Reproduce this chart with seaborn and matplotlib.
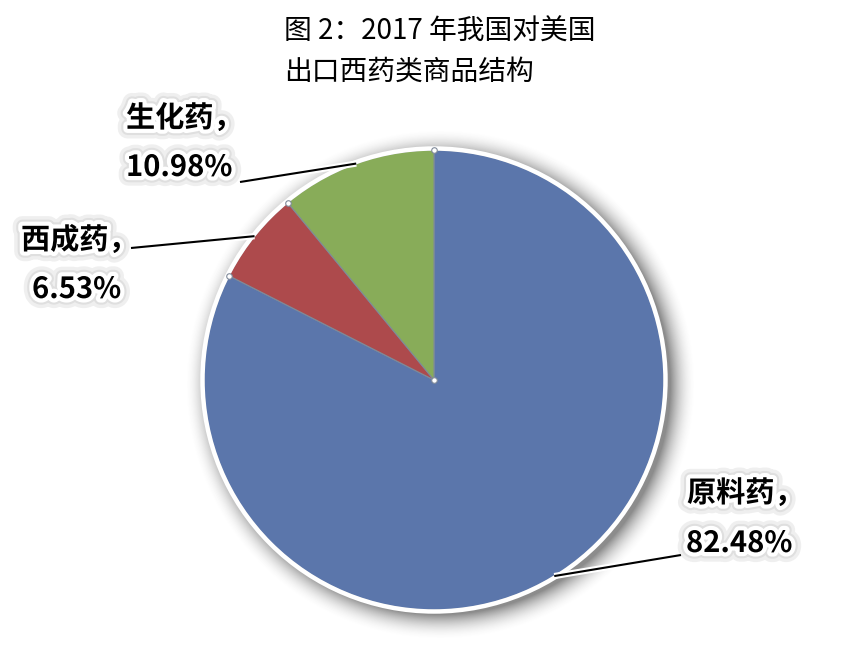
import numpy as np
import matplotlib
matplotlib.use("Agg")
import matplotlib.pyplot as plt
import matplotlib.patheffects as pe
from matplotlib.patches import Circle
import seaborn as sns

# Export structure of Western medicine products to the US, 2017
categories = ["原料药", "西成药", "生化药"]
shares = [82.48, 6.53, 10.98]
pct_text = ["82.48%", "6.53%", "10.98%"]
colors = ["#5b76ab", "#ad4a4c", "#88ac59"]

sns.set_theme(style="white")
plt.rcParams["font.family"] = ["Noto Sans CJK SC", "DejaVu Sans"]

W, H = 852, 662
fig = plt.figure(figsize=(W / 100, H / 100), dpi=100)
ax = fig.add_axes([0, 0, 1, 1])
ax.set_xlim(0, W)
ax.set_ylim(0, H)
ax.set_aspect("equal")
ax.axis("off")

cx, cy, r = 434, H - 380, 230

# soft drop shadow behind the pie
gx, gy = np.meshgrid(np.arange(0, W), np.arange(0, H))
d = np.hypot(gx - (cx + 6), gy - (cy - 5)) - r
shadow = np.clip(1 - d / 26, 0, 1) ** 2 * 0.6
rgba = np.zeros((H, W, 4))
rgba[..., :3] = 0.25
rgba[..., 3] = shadow
ax.imshow(rgba, extent=(0, W, 0, H), origin="lower", zorder=0, interpolation="bilinear")

wedges, _ = ax.pie(
    shares, colors=colors, startangle=90, counterclock=False,
    center=(cx, cy), radius=r, frame=True,
    wedgeprops=dict(edgecolor="#7f8a99", linewidth=0.8),
)
for w in wedges:
    w.set_zorder(2)
ax.set_xlim(0, W)
ax.set_ylim(0, H)
ax.axis("off")

# white rim around the pie
ax.add_patch(Circle((cx, cy), r + 1.5, fill=False, edgecolor="white", linewidth=3.2, zorder=3))

# small vertex markers at slice boundaries and center
bounds = 90 - 360 * np.cumsum([0] + shares[:-1]) / 100
for a in bounds:
    t = np.deg2rad(a)
    ax.plot(cx + r * np.cos(t), cy + r * np.sin(t), "o", ms=4, mfc="white", mec="#7f8a99", mew=0.8, zorder=4)
ax.plot(cx, cy, "o", ms=4, mfc="white", mec="#7f8a99", mew=0.8, zorder=4)

# label placement: name line, percent line, leader line end
name_pos = [(687, H - 493), (21, H - 240), (126, H - 118)]
pct_pos = [(686, H - 543), (32, H - 289), (126, H - 167)]
line_end = [(681, H - 555), (131, H - 248), (240, H - 182)]

text_fx = [
    pe.Stroke(linewidth=14, foreground=(0.5, 0.5, 0.5, 0.12)),
    pe.Stroke(linewidth=9, foreground=(0.6, 0.6, 0.6, 0.18)),
    pe.Stroke(linewidth=6, foreground="white"),
    pe.Normal(),
]
line_fx = [pe.Stroke(linewidth=4.5, foreground="white"), pe.Normal()]

for w, name, pct, npos, ppos, (ex, ey) in zip(wedges, categories, pct_text, name_pos, pct_pos, line_end):
    mid = np.deg2rad((w.theta1 + w.theta2) / 2)
    px, py = cx + r * np.cos(mid), cy + r * np.sin(mid)
    ax.plot([px, ex], [py, ey], color="black", linewidth=1.5, zorder=5,
            solid_capstyle="butt", path_effects=line_fx)
    ax.text(npos[0], npos[1], name + "，", ha="left", va="center", fontsize=21,
            fontweight="bold", color="black", zorder=6, path_effects=text_fx)
    ax.text(ppos[0], ppos[1], pct, ha="left", va="center", fontsize=21,
            fontweight="bold", color="black", zorder=6, path_effects=text_fx)

# two-line title
ax.text(284, H - 32, "图 2：2017 年我国对美国", ha="left", va="center", fontsize=20, color="black")
ax.text(284, H - 72, "出口西药类商品结构", ha="left", va="center", fontsize=20, color="black")

fig.savefig("out.png", dpi=100, facecolor="white")
